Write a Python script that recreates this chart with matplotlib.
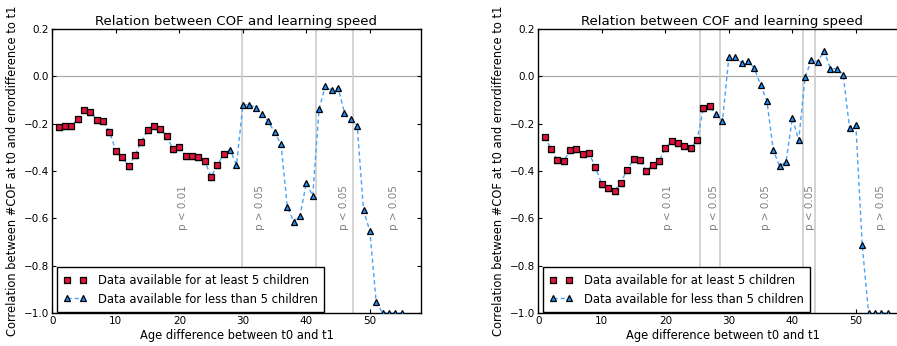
import matplotlib
matplotlib.use("Agg")
import matplotlib.pyplot as plt
import numpy as np

# ---- data ----
x_sq = list(range(1, 28))
x_tri = list(range(28, 56))

left_sq = [-0.215, -0.208, -0.208, -0.182, -0.141, -0.149, -0.183, -0.189, -0.234, -0.314,
           -0.339, -0.379, -0.334, -0.277, -0.225, -0.211, -0.222, -0.252, -0.308, -0.300,
           -0.335, -0.336, -0.339, -0.358, -0.424, -0.375, -0.327]
left_tri = [-0.310, -0.375, -0.121, -0.120, -0.132, -0.159, -0.190, -0.237, -0.286, -0.551,
            -0.614, -0.589, -0.449, -0.506, -0.138, -0.041, -0.058, -0.048, -0.154, -0.180,
            -0.208, -0.566, -0.655, -0.955, -1.0, -1.0, -1.0, -1.0]

right_sq = [-0.255, -0.306, -0.355, -0.358, -0.312, -0.306, -0.330, -0.326, -0.383, -0.456,
            -0.471, -0.483, -0.449, -0.394, -0.351, -0.355, -0.398, -0.376, -0.359, -0.303,
            -0.275, -0.282, -0.295, -0.303, -0.270, -0.133, -0.125]
right_tri = [-0.161, -0.189, 0.080, 0.080, 0.057, 0.064, 0.035, -0.036, -0.106, -0.313,
             -0.380, -0.361, -0.176, -0.271, -0.003, 0.068, 0.062, 0.108, 0.032, 0.032,
             0.007, -0.217, -0.207, -0.714, -1.0, -1.0, -1.0, -1.0]

left_vlines = [29.8, 41.5, 47.4]
right_vlines = [25.5, 28.6, 41.6, 43.6]

left_ptext = ["p < 0.01", "p > 0.05", "p < 0.05", "p > 0.05"]
left_ptext_x = [20.5, 32.7, 45.9, 53.8]
right_ptext = ["p < 0.01", "p < 0.05", "p > 0.05", "p < 0.05", "p > 0.05"]
right_ptext_x = [20.5, 27.7, 35.8, 42.8, 53.9]

title = "Relation between COF and learning speed"
xlabel = "Age difference between t0 and t1"
ylabel = "Correlation between #COF at t0 and errordifference to t1"
leg_sq = "Data available for at least 5 children"
leg_tri = "Data available for less than 5 children"

# ---- style ----
plt.rcParams.update({
    "font.family": "DejaVu Sans",
    "font.size": 7.5,
    "xtick.direction": "in",
    "ytick.direction": "in",
    "xtick.top": True,
    "ytick.right": True,
    "xtick.major.size": 3,
    "ytick.major.size": 3,
    "xtick.major.pad": 2.5,
    "ytick.major.pad": 2.5,
    "axes.linewidth": 1.0,
})

fig = plt.figure(figsize=(8.97, 3.46), dpi=100)
ax1 = fig.add_axes([0.0583, 0.0954, 0.4107, 0.8208])
ax2 = fig.add_axes([0.6001, 0.0954, 0.4107, 0.8208])

sq_color = "#dc143c"
tri_color = "#1e90ff"
line_color = "#4aa3f7"


def draw(ax, sq, tri, vlines, ptexts, ptext_x):
    ax.axhline(0, color="#aaaaaa", lw=0.9, zorder=1)
    for v in vlines:
        ax.axvline(v, color="#cccccc", lw=1.2, zorder=1)
    for t, xx in zip(ptexts, ptext_x):
        ax.text(xx, -0.555, t, rotation=90, color="#808080", fontsize=7.5,
                ha="center", va="center", zorder=2)
    all_x = x_sq + x_tri
    all_y = sq + tri
    ax.plot(all_x, all_y, linestyle="--", dashes=(3, 2.2), color=line_color, lw=1.0,
            marker="^", markersize=4.8, markerfacecolor=tri_color,
            markeredgecolor="black", markeredgewidth=0.9, zorder=3, label=leg_tri)
    ax.plot(x_sq, sq, linestyle="none", marker="s", markersize=4.8,
            markerfacecolor=sq_color, markeredgecolor="black", markeredgewidth=0.9,
            zorder=4, label=leg_sq)
    ax.set_xlim(0, 58)
    ax.set_ylim(-1.0, 0.2)
    ax.set_xticks([0, 10, 20, 30, 40, 50])
    ax.set_yticks([0.2, 0.0, -0.2, -0.4, -0.6, -0.8, -1.0])
    ax.set_yticklabels(["0.2", "0.0", "\u22120.2", "\u22120.4", "\u22120.6", "\u22120.8", "\u22121.0"])
    ax.set_title(title, fontsize=9.6, pad=3)
    ax.set_xlabel(xlabel, fontsize=8.3, labelpad=2)
    ax.set_ylabel(ylabel, fontsize=8.3, labelpad=3)
    h, l = ax.get_legend_handles_labels()
    leg = ax.legend(h[::-1], l[::-1], loc="lower left", bbox_to_anchor=(0.013, 0.004),
                    borderaxespad=0, numpoints=2, fontsize=8.3,
                    fancybox=False, framealpha=1, edgecolor="black",
                    handlelength=2.0, handletextpad=1.0, borderpad=0.55,
                    labelspacing=0.5)
    leg.get_frame().set_linewidth(1.0)


draw(ax1, left_sq, left_tri, left_vlines, left_ptext, left_ptext_x)
draw(ax2, right_sq, right_tri, right_vlines, right_ptext, right_ptext_x)

fig.savefig("out.png", dpi=100)
